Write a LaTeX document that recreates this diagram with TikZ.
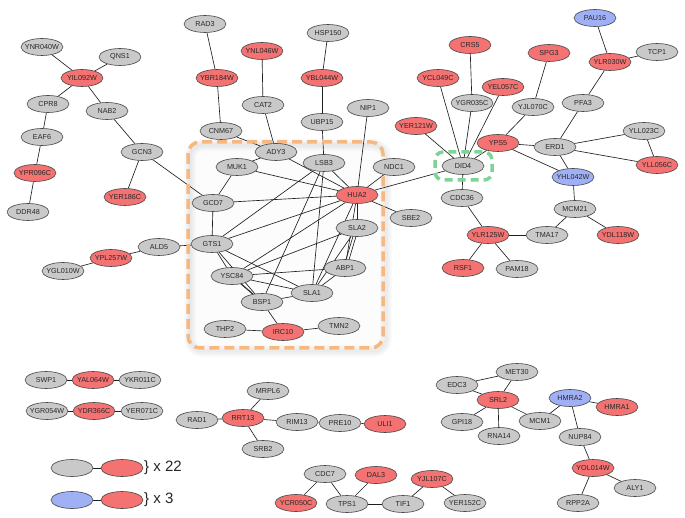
\documentclass[tikz,border=0pt]{standalone}
\usepackage{fontspec}
\setmainfont{Liberation Sans}
\usetikzlibrary{shapes.geometric}
\pgfdeclarelayer{shade}
\pgfdeclarelayer{edges}
\pgfdeclarelayer{boxes}
\pgfsetlayers{shade,edges,boxes,main}
\definecolor{nred}{RGB}{244,114,114}
\definecolor{ngray}{RGB}{201,201,201}
\definecolor{nblue}{RGB}{160,176,245}
\definecolor{boxorange}{RGB}{246,184,126}
\definecolor{boxgreen}{RGB}{125,212,150}
\definecolor{txt}{RGB}{40,40,40}
\tikzset{
  gnode/.style={ellipse, draw=black!72, line width=0.6pt, minimum width=42pt, minimum height=17pt, inner sep=0pt, font=\fontsize{7.2}{8}\selectfont, text=txt},
  gn/.style={gnode, fill=ngray},
  rn/.style={gnode, fill=nred},
  bn/.style={gnode, fill=nblue},
  edge/.style={draw=black!88, line width=0.65pt},
  legtext/.style={anchor=west, inner sep=0pt, font=\fontsize{15}{18}\selectfont, text=black!85}
}
\newcommand\pn[3]{\node[#1] (#2) at (#3) {\makebox[0pt]{#2}};}
\begin{document}
\begin{tikzpicture}[x=1pt,y=-1pt]
\useasboundingbox (0,0) rectangle (685,518);
% ---- left / central component
\pn{gn}{YNR040W}{42,47}
\pn{gn}{QNS1}{120,57}
\pn{rn}{YIL092W}{82,78}
\pn{gn}{CPR8}{48,104}
\pn{gn}{NAB2}{107,111}
\pn{gn}{EAF6}{42,137}
\pn{gn}{GCN3}{142,152}
\pn{rn}{YPR096C}{35,173}
\pn{rn}{YER186C}{125,197}
\pn{gn}{DDR48}{28,212}
\pn{gn}{RAD3}{205,24}
\pn{rn}{YBR184W}{217,78}
\pn{gn}{CNM67}{221,131}
\pn{rn}{YNL046W}{262,51}
\pn{gn}{CAT2}{263,105}
\pn{gn}{HSP150}{328,33}
\pn{rn}{YBL044W}{322,78}
\pn{gn}{UBP15}{322,122}
\pn{gn}{NIP1}{368,108}
\pn{gn}{ADY3}{276,152}
\pn{gn}{MUK1}{237,167}
\pn{gn}{LSB3}{324,163}
\pn{gn}{NDC1}{394,167}
\pn{rn}{HUA2}{357,195}
\pn{gn}{GCD7}{213,203}
\pn{gn}{SBE2}{411,218}
\pn{gn}{SLA2}{357,228}
\pn{gn}{GTS1}{212,244}
\pn{gn}{ALD5}{159,247}
\pn{rn}{YPL257W}{111,258}
\pn{gn}{YGL010W}{63,271}
\pn{gn}{ABP1}{345,268}
\pn{gn}{YSC84}{232,276}
\pn{gn}{SLA1}{312,293}
\pn{gn}{BSP1}{262,302}
\pn{gn}{THP2}{225,329}
\pn{rn}{IRC10}{283,332}
\pn{gn}{TMN2}{339,326}
% ---- right component
\pn{bn}{PAU16}{595,18}
\pn{rn}{CRS5}{470,45}
\pn{rn}{SPG3}{549,53}
\pn{gn}{TCP1}{657,52}
\pn{rn}{YLR030W}{610,62}
\pn{rn}{YCL049C}{438,78}
\pn{rn}{YEL057C}{503,87}
\pn{gn}{YGR035C}{472,103}
\pn{gn}{YJL070C}{533,107}
\pn{gn}{PFA3}{583,103}
\pn{rn}{YER121W}{416,126}
\pn{gn}{YLL023C}{644,131}
\pn{rn}{YPS5}{498,143}
\pn{gn}{ERD1}{555,147}
\pn{gn}{DID4}{463,166}
\pn{rn}{YLL056C}{657,165}
\pn{bn}{YHL042W}{573,177}
\pn{gn}{CDC36}{462,198}
\pn{gn}{MCM21}{575,209}
\pn{rn}{YLR125W}{488,235}
\pn{gn}{TMA17}{547,235}
\pn{rn}{YDL118W}{618,235}
\pn{rn}{RSF1}{463,268}
\pn{gn}{PAM18}{517,269}
% ---- bottom groups
\pn{gn}{SWP1}{46,380}
\pn{rn}{YAL064W}{93,380}
\pn{gn}{YKR011C}{140,380}
\pn{gn}{YGR054W}{47,411}
\pn{rn}{YDR366C}{94,411}
\pn{gn}{YER071C}{142,411}
\pn{gn}{MRPL6}{268,391}
\pn{gn}{RAD1}{197,420}
\pn{rn}{RRT13}{243,418}
\pn{gn}{RIM13}{297,422}
\pn{gn}{PRE10}{340,423}
\pn{rn}{ULI1}{385,424}
\pn{gn}{SRB2}{263,449}
\pn{gn}{CDC7}{325,474}
\pn{rn}{DAL3}{376,475}
\pn{rn}{YJL107C}{432,479}
\pn{rn}{YCR050C}{296,503}
\pn{gn}{TPS1}{347,504}
\pn{gn}{TIF1}{403,504}
\pn{gn}{YER152C}{465,503}
\pn{gn}{MET30}{517,372}
\pn{gn}{EDC3}{457,385}
\pn{rn}{SRL2}{498,400}
\pn{bn}{HMRA2}{570,398}
\pn{rn}{HMRA1}{617,407}
\pn{gn}{GPI18}{462,422}
\pn{gn}{MCM1}{540,421}
\pn{gn}{RNA14}{499,436}
\pn{gn}{NUP84}{580,437}
\pn{rn}{YOL014W}{593,468}
\pn{gn}{ALY1}{635,488}
\pn{gn}{RPP2A}{578,503}
% ---- legend
\node[gn] (LGa) at (72,468) {};
\node[rn] (LRa) at (122,468) {};
\node[bn] (LBb) at (72,500) {};
\node[rn] (LRb) at (122,500) {};
\node[legtext] (LTa) at (144,468) {\} x 22};
\node[legtext] (LTb) at (144,500) {\} x 3};
% ---- highlight boxes
\begin{pgfonlayer}{shade}
  \fill[black, opacity=0.012, rounded corners=12pt] (188,142) rectangle (383,348);
  \foreach \w in {3,6,9,12}
    \draw[black, opacity=0.018, line width=\w pt, rounded corners=12pt] (190,145) rectangle (386,351);
\end{pgfonlayer}
\begin{pgfonlayer}{boxes}
  \draw[boxorange, line width=3.5pt, dash pattern=on 10pt off 5pt, rounded corners=12pt] (188,142) rectangle (383,348);
  \draw[boxgreen, line width=3.5pt, dash pattern=on 8pt off 5pt, rounded corners=8pt] (435,152) rectangle (492,180);
\end{pgfonlayer}
% ---- edges
\begin{pgfonlayer}{edges}
\foreach \a/\b in {YNR040W/YIL092W, QNS1/YIL092W, YIL092W/CPR8, YIL092W/NAB2, CPR8/EAF6, EAF6/YPR096C, YPR096C/DDR48, NAB2/GCN3, GCN3/YER186C, GCN3/GCD7,
  RAD3/YBR184W, YBR184W/CNM67, CNM67/ADY3, YNL046W/CAT2, CAT2/ADY3, HSP150/YBL044W, YBL044W/UBP15, UBP15/LSB3, NIP1/HUA2,
  ADY3/MUK1, ADY3/HUA2, MUK1/GCD7, MUK1/HUA2, LSB3/HUA2, LSB3/GTS1, LSB3/BSP1, LSB3/SLA1, GCD7/HUA2, GCD7/GTS1, GTS1/HUA2,
  GTS1/YSC84, GTS1/BSP1, GTS1/SLA1, YSC84/HUA2, YSC84/SLA2, YSC84/ABP1, YSC84/SLA1, HUA2/SLA2, HUA2/ABP1, HUA2/SLA1,
  SLA2/SLA1, ABP1/SLA1, SLA1/BSP1, BSP1/IRC10, IRC10/THP2, IRC10/TMN2, HUA2/NDC1, HUA2/SBE2, HUA2/DID4,
  ALD5/GTS1, ALD5/YPL257W, YPL257W/YGL010W,
  DID4/YER121W, DID4/YCL049C, DID4/YGR035C, DID4/YEL057C, DID4/YPS5, DID4/CDC36, YGR035C/CRS5, YPS5/YJL070C, YJL070C/SPG3,
  YPS5/ERD1, YPS5/YHL042W, ERD1/PFA3, PFA3/YLR030W, YLR030W/PAU16, YLR030W/TCP1, ERD1/YLL023C, ERD1/YLL056C, YLL023C/YLL056C,
  ERD1/YHL042W, YHL042W/MCM21, MCM21/TMA17, MCM21/YDL118W, TMA17/YLR125W, CDC36/YLR125W, YLR125W/RSF1, YLR125W/PAM18,
  SWP1/YAL064W, YAL064W/YKR011C, YGR054W/YDR366C, YDR366C/YER071C,
  RAD1/RRT13, RRT13/MRPL6, RRT13/SRB2, RRT13/RIM13, RIM13/PRE10, PRE10/ULI1,
  CDC7/YCR050C, CDC7/TPS1, TPS1/DAL3, TPS1/TIF1, TIF1/YJL107C, YJL107C/YER152C,
  EDC3/MET30, MET30/SRL2, EDC3/SRL2, SRL2/GPI18, SRL2/RNA14, SRL2/MCM1, MCM1/HMRA2, HMRA2/HMRA1, HMRA2/NUP84,
  NUP84/YOL014W, YOL014W/RPP2A, YOL014W/ALY1,
  LGa/LRa, LBb/LRb}
  \draw[edge] (\a) -- (\b);
\draw[edge] ([xshift=-1.5pt]SLA2.center) -- ([xshift=-1.5pt]ABP1.center);
\draw[edge] ([xshift=1.5pt]SLA2.center) -- ([xshift=1.5pt]ABP1.center);
\draw[edge] ([xshift=1.5pt,yshift=-1pt]YSC84.center) -- ([xshift=1.5pt,yshift=-1pt]BSP1.center);
\draw[edge] ([xshift=-1.5pt,yshift=1pt]YSC84.center) -- ([xshift=-1.5pt,yshift=1pt]BSP1.center);
\end{pgfonlayer}
\end{tikzpicture}
\end{document}
